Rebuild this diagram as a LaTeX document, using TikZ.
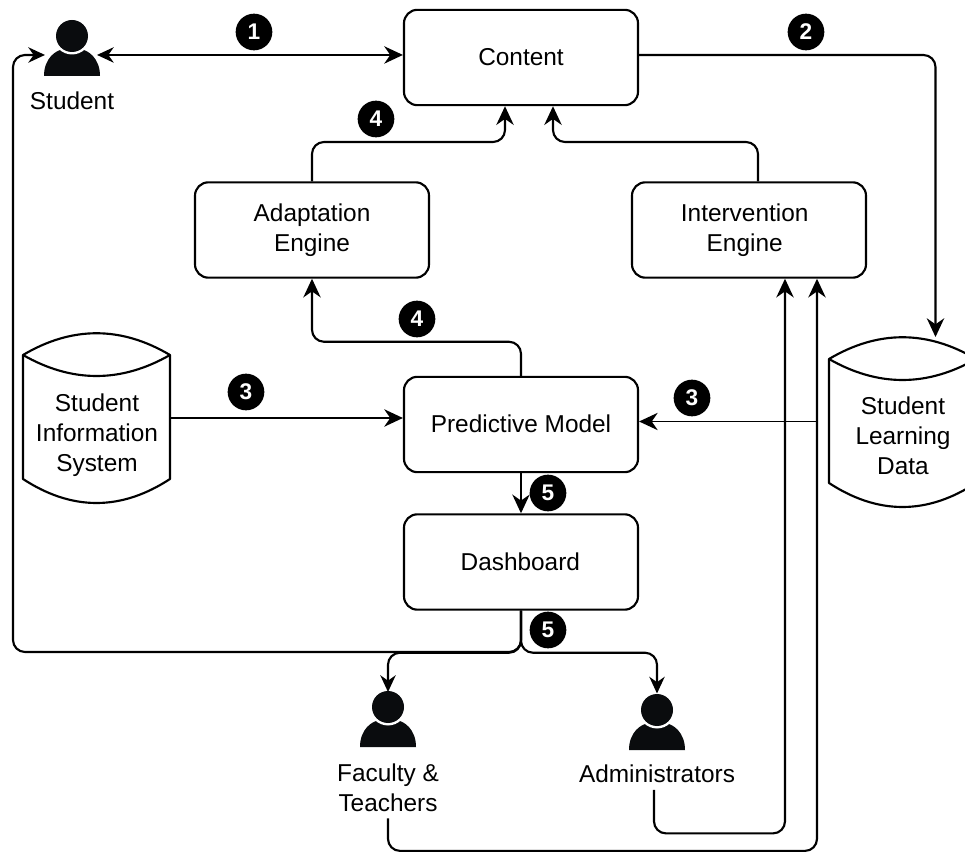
\documentclass[tikz,border=0pt]{standalone}
\usepackage{fontspec}
\setmainfont{Liberation Sans}
\usetikzlibrary{arrows.meta,calc}
\definecolor{ink}{HTML}{0A0C0E}
\tikzset{
  every node/.style={font=\fontsize{18.3}{22.5}\selectfont, text=black},
  boxnode/.style={draw=black, line width=1.6pt, rounded corners=10pt, minimum width=175.5pt, minimum height=71.5pt, align=center, inner sep=0pt, fill=white},
  anchorbox/.style={inner sep=0pt, outer sep=0pt, minimum width=#1},
  txt/.style={align=center, inner sep=0pt},
  badge/.style={circle, fill=black, minimum size=27.5pt, inner sep=0pt, text=white, font=\fontsize{17}{17}\selectfont\bfseries},
  conn/.style={draw=black, line width=1.6pt, rounded corners=9pt},
  tip/.style={-{Stealth[length=14pt,width=13pt,inset=4.5pt]}},
  smalltip/.style={-{Stealth[length=12.5pt,width=11.5pt,inset=4pt]}},
  cylinder body/.pic={
    \draw[line width=1.6pt, fill=white, line join=round]
      (0,22) .. controls (49,-7) and (98,-7) .. (147,22)
      -- (147,146) .. controls (98,178) and (49,178) .. (0,146) -- cycle;
    \draw[line width=1.6pt]
      (0,22) .. controls (49,50) and (98,50) .. (147,22);
  },
  person icon/.pic={
    \fill[ink] (-28,40) .. controls (-28,22) and (-16,14) .. (-8,13) -- (8,13)
      .. controls (16,14) and (28,22) .. (28,40) -- cycle;
    \fill[white] (0,0) circle (18.5);
    \fill[ink] (0,0) circle (16);
  }
}
\begin{document}
\begin{tikzpicture}[x=0.75pt,y=-0.75pt]
\useasboundingbox (0,0) rectangle (965,852);
\clip (0,0) rectangle (965,852);

% cylinders
\pic at (23,333) {cylinder body};
\pic at (829,337) {cylinder body};
\node[anchorbox=110.25pt, minimum height=127.5pt] (sis) at (96.5,418) {};
\node[anchorbox=110.25pt, minimum height=126.75pt] (sld) at (902.5,421.5) {};
\node[txt] (sistext) at (97,435) {Student\\Information\\System};
\node[txt] (sldtext) at (903,435.5) {Student\\Learning\\Data};

% boxes
\node[boxnode] (content) at (521,57.5) {\raisebox{1.5pt}{Content}};
\node[boxnode] (adapt) at (312,230) {Adaptation\\Engine};
\node[boxnode] (interv) at (749,230) {Intervention\hspace*{6.5pt}\\Engine\hspace*{6.5pt}};
\node[boxnode] (model) at (521,424.5) {\raisebox{2pt}{Predictive Model}};
\node[boxnode] (dash) at (521,562) {\raisebox{.75pt}{Dashboard}\hspace*{1pt}};

% people
\pic at (72,36) {person icon};
\pic at (388,707) {person icon};
\pic at (657,710) {person icon};
\node[anchorbox=39pt, minimum height=41.25pt] (student) at (71,47.5) {};
\node[anchorbox=39pt, minimum height=41.25pt] (faculty) at (388,719.5) {};
\node[anchorbox=39pt, minimum height=41.25pt] (admin) at (657,721) {};
\node[txt] (studenttext) at (72,101) {Student};
\node[txt] (facultytext) at (388,787.5) {Faculty \&\\Teachers};
\node[txt] (admintext) at (657,774) {Administrators};

% routing points
\coordinate (loopb) at (13,652);
\coordinate (loopt) at (13,55);
\coordinate (c4) at (505,142);
\coordinate (c5) at (553,142);

% connectors
\draw[conn,{Stealth[length=12.5pt,width=11.5pt,inset=4pt]}-{Stealth[length=14pt,width=13pt,inset=4.5pt]}]
  ([yshift=-5.6pt]student.east) -- ([yshift=-5.6pt]student.east -| content.west);
\draw[conn,smalltip] (dash.south) |- (loopb) -- (loopt) -- ([yshift=-5.6pt]student.west);
\draw[conn,tip] (content.east |- loopt) -| ([xshift=24.75pt]sld.north);
\draw[conn,tip] (adapt.north) |- (c4) -- ([xshift=-12pt]content.south);
\draw[conn,tip] ([xshift=6.75pt]interv.north) |- (c5) -- ([xshift=24pt]content.south);
\draw[conn,tip] (model.north) -- ++(0,-34) -| (adapt.south);
\draw[conn,tip] (sis.east) -- (model.west |- sis.east);
\draw[draw=black,line width=1.1pt,tip] ([xshift=-8.25pt]sld.west) -- (model.east |- sld.west);
\draw[conn,tip] (model.south) -- (dash.north);
\draw[conn,smalltip] (dash.south) -- ++(0,42) -| (faculty.north);
\draw[conn,smalltip] (dash.south) -- ++(0,42) -| (admin.north);
\draw[conn,tip] ([xshift=-2.25pt,yshift=-5pt]admintext.south) -- ++(0,43.5) -| ([xshift=27pt]interv.south);
\draw[conn,tip] ([yshift=-5pt]facultytext.south) -- ++(0,32.5) -| ([xshift=51pt]interv.south);

% badges
\node[badge] (b1) at (254,32) {1};
\node[badge] (b2) at (806,32) {2};
\node[badge] (b4a) at (376,119) {4};
\node[badge] (b4b) at (417,319) {4};
\node[badge] (b3a) at (246,392) {3};
\node[badge] (b3b) at (692,398) {3};
\node[badge] (b5a) at (548,493) {5};
\node[badge] (b5b) at (548,630) {5};
\end{tikzpicture}
\end{document}
